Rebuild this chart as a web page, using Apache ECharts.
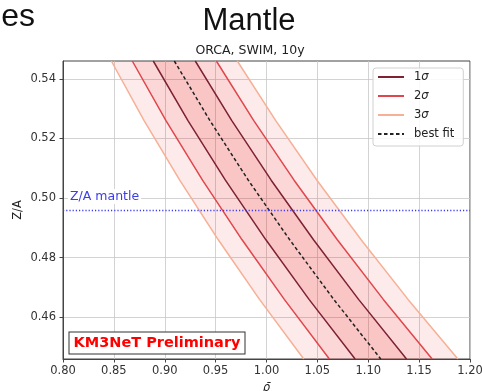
<!DOCTYPE html>
<html>
<head>
<meta charset="utf-8">
<script src="https://cdn.jsdelivr.net/npm/echarts@6.0.0/dist/echarts.min.js"></script>
<style>
  html, body { margin: 0; padding: 0; background: #fff; }
  #chart { width: 482px; height: 391px; }
</style>
</head>
<body>
<div id="chart"></div>
<script>
// Z/A levels (vertical axis) at which each contour's rho-bar value is tabulated
const zaLevels    = [0.546, 0.526, 0.506, 0.486, 0.466, 0.446];
const sigma3Left  = [0.8475, 0.8797, 0.9147, 0.9526, 0.9931, 1.0366];
const sigma2Left  = [0.8681, 0.9012, 0.9371, 0.9760, 1.0175, 1.0618];
const sigma1Left  = [0.8887, 0.9228, 0.9596, 0.9994, 1.0418, 1.0871];
const bestFit     = [0.9094, 0.9444, 0.9821, 1.0228, 1.0661, 1.1123];
const sigma1Right = [0.9300, 0.9659, 1.0046, 1.0462, 1.0905, 1.1376];
const sigma2Right = [0.9507, 0.9875, 1.0271, 1.0696, 1.1148, 1.1628];
const sigma3Right = [0.9713, 1.0091, 1.0496, 1.0930, 1.1391, 1.1881];

// Reference Z/A value for the mantle
const zaMantle = 0.496;

// Axis ticks
const xTicks = [0.80, 0.85, 0.90, 0.95, 1.00, 1.05, 1.10, 1.15, 1.20];
const yTicks = [0.46, 0.48, 0.50, 0.52, 0.54];

const legendNames = ['1σ', '2σ', '3σ', 'best fit'];

const C1 = '#7d2233', C2 = '#e0474c', C3 = '#f6b095', BAND = 'rgba(235, 25, 25, 0.09)';

const toPts = arr => arr.map((r, i) => [r, zaLevels[i]]);

function bandSeries(left, right) {
  return {
    type: 'custom',
    silent: true,
    clip: true,
    z: 1,
    data: [[1.0, 0.5]],
    renderItem: function (params, api) {
      const pts = [];
      left.forEach((r, i) => pts.push(api.coord([r, zaLevels[i]])));
      for (let i = right.length - 1; i >= 0; i--) pts.push(api.coord([right[i], zaLevels[i]]));
      return { type: 'polygon', shape: { points: pts }, style: { fill: BAND } };
    }
  };
}

function contour(name, arr, color, type) {
  return {
    name: name, type: 'line', data: toPts(arr), symbol: 'none', silent: true, z: 3,
    clip: true,
    lineStyle: { color: color, width: 1.5, type: type || 'solid' },
    itemStyle: { color: color }
  };
}

const chart = echarts.init(document.getElementById('chart'), null, { renderer: 'canvas' });

const bestFitSeries = contour('best fit', bestFit, '#222', [3.5, 2.5]);
bestFitSeries.markLine = {
  symbol: 'none', silent: true, animation: false, precision: 4,
  lineStyle: { color: '#3b3bf0', width: 1.3, type: [1.2, 2] },
  label: {
    show: true, position: 'insideStartTop', formatter: 'Z/A mantle',
    color: '#3d3de8', fontFamily: 'DejaVu Sans', fontSize: 12.5,
    backgroundColor: '#fff', padding: [1, 2], distance: [5, 6]
  },
  data: [{ yAxis: zaMantle }]
};

chart.setOption({
  animation: false,
  textStyle: { fontFamily: 'DejaVu Sans' },
  title: [
    { text: 'Mantle', left: 249, top: 6, textAlign: 'center', padding: 0,
      textStyle: { fontFamily: 'Liberation Sans', fontSize: 31, fontWeight: 'normal', color: '#111' } },
    { text: 'ORCA, SWIM, 10y', left: 250, top: 44, textAlign: 'center', padding: 0,
      textStyle: { fontFamily: 'DejaVu Sans', fontSize: 12.5, fontWeight: 'normal', color: '#222' } }
  ],
  graphic: [
    { type: 'text', x: 35, y: 17, silent: true,
      style: { text: 'es', align: 'right', verticalAlign: 'middle', fill: '#111',
               font: 'normal 32px "Liberation Sans"' } },
    { type: 'text', x: 157, y: 343, z: 100, silent: true,
      style: { text: 'KM3NeT Preliminary', align: 'center', verticalAlign: 'middle',
               fill: '#ff0000', font: 'bold 14.5px "DejaVu Sans"',
               backgroundColor: '#fff', borderColor: '#333', borderWidth: 1, padding: [3, 4] } }
  ],
  legend: {
    data: legendNames,
    orient: 'vertical', left: 373, top: 68,
    itemWidth: 26, itemHeight: 12, itemGap: 7,
    padding: [3, 9, 6, 4],
    backgroundColor: 'rgba(255,255,255,0.85)',
    borderColor: '#d0d0d0', borderWidth: 1, borderRadius: 3,
    selectedMode: false,
    itemStyle: { opacity: 0 },
    formatter: n => n.replace('σ', '{i|σ}'),
    textStyle: { fontFamily: 'DejaVu Sans', fontSize: 11.5, color: '#222', padding: [0, 0, 0, 5],
      rich: { i: { fontFamily: 'DejaVu Sans', fontStyle: 'italic', fontSize: 11.5, color: '#222' } } }
  },
  grid: { left: 63, right: 12, top: 61, bottom: 32, containLabel: false, outerBoundsMode: 'none',
          show: true, borderColor: '#444', borderWidth: 1, backgroundColor: 'transparent' },
  xAxis: {
    type: 'value', min: 0.8, max: 1.2, interval: 0.05,
    name: 'ρ̄', nameLocation: 'middle', nameGap: 23, nameMoveOverlap: false,
    nameTextStyle: { fontFamily: 'DejaVu Sans', fontStyle: 'italic', fontSize: 11.5, color: '#222' },
    axisLine: { show: true, lineStyle: { color: '#444', width: 1 } },
    axisTick: { show: true, length: 3.5, lineStyle: { color: '#444' }, customValues: xTicks },
    axisLabel: { customValues: xTicks, formatter: v => v.toFixed(2), margin: 6,
                 fontFamily: 'DejaVu Sans', fontSize: 11.5, color: '#333' },
    splitLine: { show: true, lineStyle: { color: '#c8c8c8', width: 0.8 } }
  },
  yAxis: {
    type: 'value', min: 0.446, max: 0.546,
    name: 'Z/A', nameLocation: 'middle', nameGap: 39, nameRotate: 90, nameMoveOverlap: false,
    nameTextStyle: { fontFamily: 'DejaVu Sans', fontSize: 11.5, color: '#222' },
    axisLine: { show: true, lineStyle: { color: '#444', width: 1 } },
    axisTick: { show: true, length: 3.5, lineStyle: { color: '#444' }, customValues: yTicks },
    axisLabel: { customValues: yTicks, formatter: v => v.toFixed(2), margin: 7,
                 fontFamily: 'DejaVu Sans', fontSize: 11.5, color: '#333' },
    splitLine: { show: true, lineStyle: { color: '#c8c8c8', width: 0.8 } }
  },
  series: [
    bandSeries(sigma3Left, sigma3Right),
    bandSeries(sigma2Left, sigma2Right),
    bandSeries(sigma1Left, sigma1Right),
    contour('3σ', sigma3Left, C3), contour('3σ', sigma3Right, C3),
    contour('2σ', sigma2Left, C2), contour('2σ', sigma2Right, C2),
    contour('1σ', sigma1Left, C1), contour('1σ', sigma1Right, C1),
    bestFitSeries
  ]
});
</script>
</body>
</html>
